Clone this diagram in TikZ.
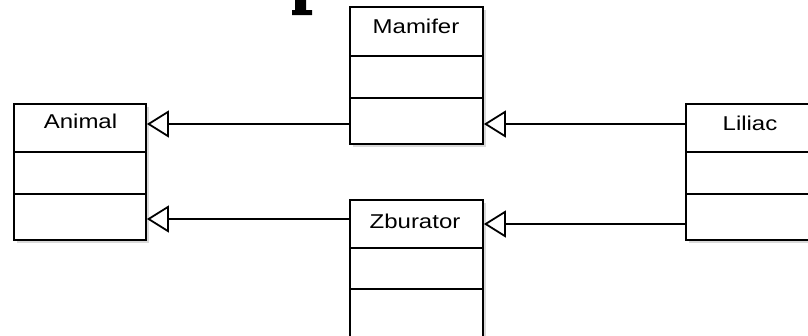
\documentclass[tikz,border=0pt]{standalone}
\usepackage{fontspec}
\newfontfamily\umlfont{Liberation Sans}
\usetikzlibrary{arrows.meta}
\tikzset{
  umlbox/.style={draw=black, line width=1.8pt, fill=white, inner sep=0pt, minimum width=133pt, minimum height=137pt},
  umlshadow/.style={fill=black!15, draw=none},
  umldiv/.style={draw=black, line width=1.8pt},
  umllabel/.style={inner sep=0pt, anchor=base, font=\umlfont\fontsize{20pt}{24pt}\selectfont},
  inherit/.style={draw=black, line width=1.8pt, -{Triangle[open, length=22pt, width=27pt, fill=white]}}
}
\newcommand{\umltext}[1]{\scalebox{1.2}[1]{#1}}
\begin{document}
\begin{tikzpicture}[x=1pt, y=-1pt]
\useasboundingbox (0,0) rectangle (808,335);
\clip (0,0) rectangle (808,335);
\fill[white] (0,0) rectangle (808,335);
% fragment of a large letter at the top
\fill[black] (295,0) -- (306,0) -- (306,10) -- (312,10) -- (312,15) -- (292,15) -- (292,10) -- (295,10) -- cycle;
% shadows
\fill[umlshadow] (17,107) rectangle (149,243);
\fill[umlshadow] (353,10) rectangle (486,147);
\fill[umlshadow] (353,203) rectangle (486,340);
\fill[umlshadow] (689,107) rectangle (822,243);
% boxes
\node[umlbox, minimum width=132pt, minimum height=136pt] (ani) at (80,172) {};
\node[umlbox] (mam) at (416.5,75.5) {};
\node[umlbox] (zbu) at (416.5,268.5) {};
\node[umlbox, minimum height=136pt] (lil) at (752.5,172) {};
% divider levels
\coordinate (a1) at (0,152); \coordinate (a2) at (0,194);
\coordinate (m1) at (0,56);  \coordinate (m2) at (0,98);
\coordinate (z1) at (0,248); \coordinate (z2) at (0,289);
\draw[umldiv] (ani.west |- a1) -- (ani.east |- a1);
\draw[umldiv] (ani.west |- a2) -- (ani.east |- a2);
\draw[umldiv] (mam.west |- m1) -- (mam.east |- m1);
\draw[umldiv] (mam.west |- m2) -- (mam.east |- m2);
\draw[umldiv] (zbu.west |- z1) -- (zbu.east |- z1);
\draw[umldiv] (zbu.west |- z2) -- (zbu.east |- z2);
\draw[umldiv] (lil.west |- a1) -- (lil.east |- a1);
\draw[umldiv] (lil.west |- a2) -- (lil.east |- a2);
% labels
\node[umllabel] (tani) at (80.5,128) {\umltext{Animal}};
\node[umllabel] (tmam) at (416,33) {\umltext{Mamifer}};
\node[umllabel] (tzbu) at (415,228) {\umltext{Zburator}};
\node[umllabel] (tlil) at (750,130) {\umltext{Liliac}};
% connector levels
\coordinate (r1) at (0,124);
\coordinate (r2) at (0,219);
\coordinate (r3) at (0,224);
\draw[inherit] (mam.west |- r1) -- (ani.east |- r1);
\draw[inherit] (zbu.west |- r2) -- (ani.east |- r2);
\draw[inherit] (lil.west |- r1) -- (mam.east |- r1);
\draw[inherit] (lil.west |- r3) -- (zbu.east |- r3);
\end{tikzpicture}
\end{document}
